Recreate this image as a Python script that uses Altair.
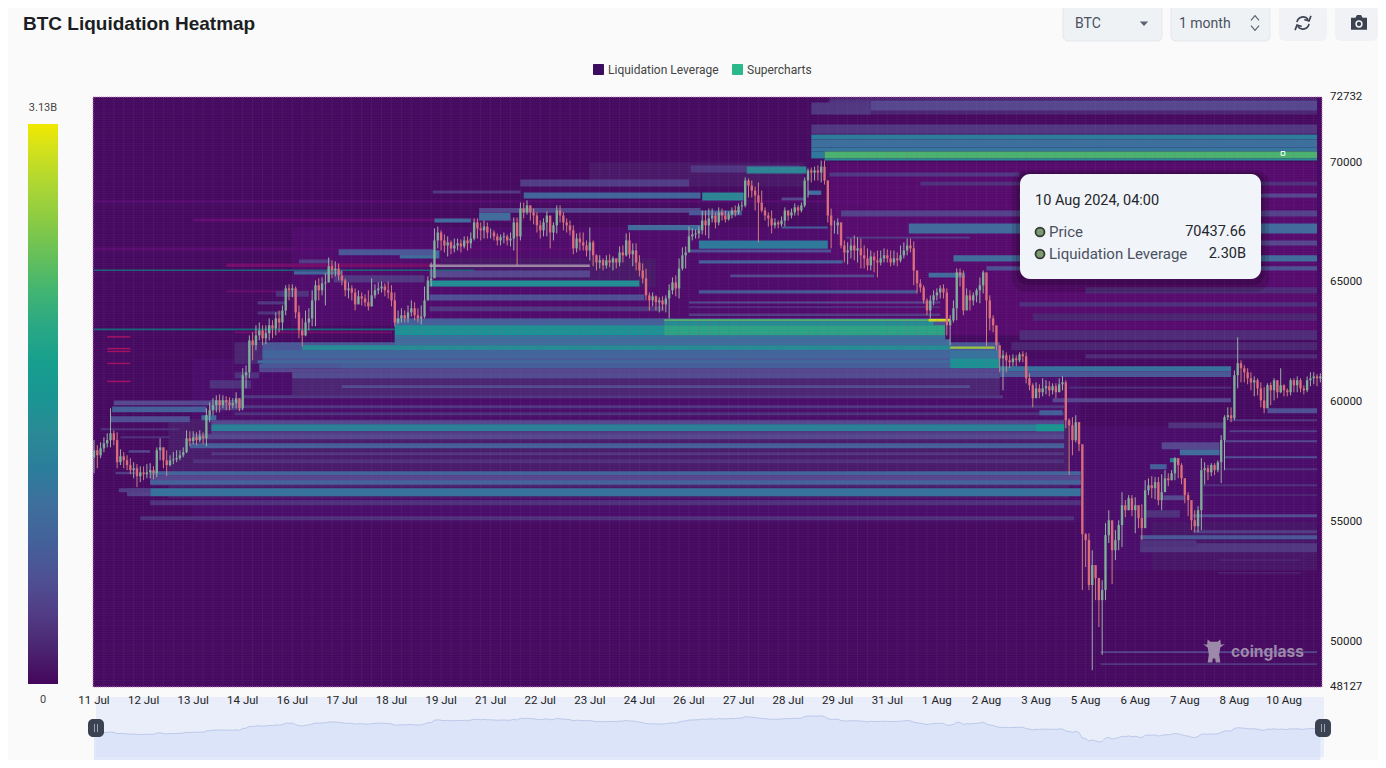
import altair as alt
import pandas as pd

# 2-hour candles as (close, high, low), one list per five days
candles_11jul = [
    (58000, 58420, 57040), (57790, 58210, 57250), (58080, 58330, 57670), (58290, 58540, 57920), (58420, 58710, 58120),
    (58710, 59750, 58120), (58420, 58830, 58210), (57500, 58750, 57250), (57750, 58040, 57380), (57580, 57920, 57250),
    (57380, 57790, 57170), (57170, 57670, 57000), (57250, 57500, 56830), (56920, 57420, 56460), (57080, 57330, 56670),
    (57000, 57330, 56750), (57080, 57420, 56830), (57170, 57460, 56830), (57040, 57330, 56790), (58000, 58120, 56880),
    (58120, 58500, 57580), (57580, 58120, 57250), (57380, 58000, 56920), (57580, 57790, 57330), (57620, 57920, 57420),
    (57670, 58000, 57500), (57790, 58000, 57580), (57920, 58120, 57710), (58500, 58830, 57880), (58380, 58790, 58170),
    (58540, 58790, 58250), (58420, 58750, 58210), (58580, 58830, 58330), (58500, 58750, 58250), (59460, 59750, 58170),
    (59670, 60000, 59170), (59880, 60170, 59460), (60080, 60290, 59580), (59880, 60330, 59580), (60080, 60290, 59750),
    (60000, 60250, 59670), (59880, 60210, 59670), (59960, 60170, 59750), (60170, 60420, 59750), (59750, 60170, 59630),
    (61130, 61420, 59670), (61250, 61540, 60580), (62580, 62790, 61000), (62380, 62920, 61750), (62790, 63210, 62170),
    (63000, 63330, 62580), (62670, 63210, 62380), (62880, 63210, 62420), (63210, 63500, 62580), (63080, 63420, 62670),
    (63500, 63750, 62790), (63330, 63830, 62920), (63830, 64040, 63000), (64750, 64880, 63630), (64670, 64920, 64250),
]
candles_16jul = [
    (64750, 64920, 64380), (63750, 64830, 63500), (63000, 64040, 62670), (62790, 63500, 62330), (63330, 63830, 62750),
    (63500, 63920, 63000), (64250, 64670, 63170), (64880, 65080, 63170), (64670, 65170, 64250), (64960, 65210, 64460),
    (65000, 65380, 64040), (65670, 66040, 65000), (65500, 65920, 65170), (65580, 65880, 65250), (65290, 65790, 65080),
    (65080, 65500, 64880), (64670, 65170, 64420), (64750, 65000, 64330), (64580, 64880, 64250), (64080, 64750, 63830),
    (64420, 64670, 64120), (64330, 64580, 64040), (64170, 64500, 64000), (64000, 64670, 63830), (64460, 65170, 64000),
    (64670, 64920, 64330), (64750, 65000, 64500), (64830, 65040, 64580), (64670, 64960, 64420), (64580, 65040, 64330),
    (64250, 64880, 64000), (63330, 64580, 63170), (63500, 63830, 63250), (63630, 63920, 63330), (63500, 63830, 63330),
    (63750, 64040, 63330), (63920, 64250, 63580), (63630, 64170, 63420), (63500, 63920, 63330), (63580, 64040, 63250),
    (64250, 64830, 63500), (65080, 65250, 64250), (65170, 65830, 64830), (66750, 67250, 65500), (67080, 67330, 66420),
    (66750, 67170, 66330), (66540, 67000, 66250), (66670, 66920, 66080), (66420, 66750, 66170), (66540, 66830, 66250),
    (66630, 66830, 66330), (66500, 66790, 66250), (66750, 66920, 66420), (66630, 66920, 66330), (66830, 67080, 66420),
    (67500, 67670, 66750), (67250, 67670, 66830), (67170, 67500, 66750), (67330, 67580, 66830), (67080, 67500, 66830),
]
candles_21jul = [
    (67080, 67250, 66830), (66920, 67170, 66750), (66750, 67040, 66540), (66880, 67000, 66540), (66920, 67080, 66630),
    (66750, 67000, 66540), (66830, 67080, 66500), (67500, 67710, 66330), (66920, 67710, 65670), (68080, 68330, 66750),
    (67920, 68330, 67670), (68210, 68420, 67830), (67920, 68210, 67580), (67790, 68080, 67420), (67380, 67920, 67080),
    (67170, 67580, 66830), (67500, 67670, 66920), (67790, 67960, 66920), (67080, 67580, 66420), (67380, 67500, 66750),
    (68000, 68210, 67040), (67790, 68210, 67500), (67500, 67920, 67170), (67380, 67670, 67080), (67170, 67580, 66960),
    (66420, 67380, 66170), (66830, 67040, 66250), (66670, 67080, 66330), (66540, 67080, 66330), (66330, 66750, 66080),
    (66670, 67290, 65920), (66130, 66750, 65670), (65830, 66170, 65500), (65920, 66130, 65580), (65710, 66000, 65500),
    (65920, 66130, 65580), (65830, 66170, 65630), (66000, 66080, 65500), (65830, 66000, 65580), (66250, 66500, 65670),
    (66130, 66540, 65830), (66750, 67040, 66080), (66170, 67080, 66000), (66330, 66630, 65670), (65830, 66630, 65500),
    (65500, 66130, 65250), (65170, 65790, 64960), (64460, 65580, 64250), (64250, 64580, 63830), (64420, 64580, 64000),
    (64170, 64460, 63830), (64250, 64380, 63750), (64080, 64420, 63830), (64330, 64460, 63750), (64670, 64920, 63500),
    (65000, 65210, 64500), (64750, 65290, 64420), (65580, 66000, 64330), (66130, 66460, 65500), (66250, 66500, 65580),
]
candles_26jul = [
    (66920, 67330, 66330), (67000, 67250, 66750), (67040, 67210, 66830), (67170, 67330, 66830), (67580, 68000, 67000),
    (67380, 68000, 66960), (67670, 68080, 66830), (67790, 68080, 67500), (67500, 67920, 67250), (67920, 68130, 67380),
    (67790, 68080, 67580), (67630, 68000, 67500), (67830, 67960, 67580), (68000, 68130, 67670), (67920, 68210, 67750),
    (68170, 68290, 67830), (68210, 68380, 68000), (69250, 69380, 68130), (69040, 69330, 68540), (68830, 69250, 68540),
    (68630, 69000, 68000), (68330, 69170, 66670), (68000, 68830, 67920), (67790, 68130, 67580), (67670, 67920, 67330),
    (67380, 68000, 67040), (67500, 67670, 67250), (67420, 67580, 67250), (67580, 67750, 67330), (68000, 68130, 67330),
    (67790, 68000, 67580), (67920, 68080, 67670), (68130, 68290, 67790), (68000, 68210, 67790), (68210, 68330, 67920),
    (69250, 69380, 68130), (69670, 69750, 68540), (69580, 69790, 69170), (69670, 69830, 69250), (69580, 69880, 69250),
    (69830, 70080, 69170), (69250, 70080, 69080), (67790, 69250, 67500), (67380, 68080, 66420), (67380, 67580, 67040),
    (67500, 67670, 67000), (66540, 67500, 66420), (66250, 66750, 65830), (66330, 66670, 65750), (66540, 66830, 66000),
    (66330, 66960, 65920), (66420, 66880, 65830), (66130, 66830, 65580), (66000, 66540, 65580), (65710, 66420, 65500),
    (66080, 66330, 65500), (65920, 66250, 65420), (65830, 66330, 65210), (66000, 66330, 65710), (66130, 66420, 65830),
]
candles_31jul = [
    (66000, 66380, 65830), (65830, 66330, 65670), (66000, 66330, 65710), (65920, 66250, 65670), (66130, 66540, 65830),
    (66330, 66670, 66000), (66540, 66830, 66130), (66420, 66830, 66250), (65500, 66710, 64880), (64960, 65420, 64540),
    (64790, 65130, 64580), (64250, 64880, 64120), (63830, 64330, 63630), (64250, 64460, 63500), (64460, 64670, 64040),
    (64580, 64750, 64250), (64750, 64880, 64330), (64580, 64920, 64330), (63210, 64750, 62790), (63420, 63630, 62380),
    (63920, 64250, 63330), (65420, 65580, 63420), (65290, 65580, 64830), (63830, 65500, 63630), (64460, 64750, 64040),
    (64250, 64670, 63830), (64460, 64580, 64040), (64670, 64750, 64170), (64880, 65210, 64130), (65420, 65500, 64540),
    (64250, 65290, 62330), (63500, 64460, 63000), (63210, 63630, 62920), (62380, 63130, 62170), (61830, 62170, 61250),
    (61960, 62170, 60500), (61750, 62080, 61250), (61670, 61960, 61420), (61830, 62000, 61500), (61750, 61960, 61500),
    (62000, 62080, 61670), (61920, 62130, 61670), (61000, 62080, 60790), (60710, 61210, 60500), (60170, 60790, 59790),
    (60580, 60830, 60170), (60420, 60750, 60170), (60580, 61000, 60250), (60670, 60920, 60330), (60500, 60880, 60250),
    (60670, 60790, 60330), (60420, 60790, 60170), (60750, 61000, 60420), (60830, 61080, 60500), (59250, 60920, 58920),
    (59040, 59330, 56960), (58420, 59380, 57790), (59170, 59460, 58330), (58250, 59170, 57960), (54500, 58130, 52170),
]
candles_5aug = [
    (54250, 54540, 53130), (52380, 54540, 52170), (53210, 53830, 48830), (52670, 53210, 51750), (51750, 52670, 50630),
    (52170, 52580, 49460), (54460, 54960, 51750), (55080, 55500, 54130), (53830, 54750, 52420), (54250, 54670, 53420),
    (54880, 55080, 53830), (55710, 56250, 53960), (55500, 55920, 55210), (56000, 56130, 55500), (55500, 56130, 55250),
    (55710, 56040, 54540), (55170, 55500, 54750), (54750, 55750, 54250), (56330, 56750, 55170), (56540, 56830, 56130),
    (56420, 56920, 56000), (56670, 56880, 55960), (55920, 56880, 55710), (56250, 57000, 55500), (56830, 57170, 56330),
    (56750, 57040, 56500), (57040, 57170, 56750), (57670, 57710, 56750), (57380, 57670, 56830), (56830, 57460, 56580),
    (56130, 56830, 55790), (55920, 56250, 55250), (55080, 55580, 54670), (54830, 55500, 54580), (55500, 55670, 54580),
    (57170, 57670, 54670), (57250, 57500, 56580), (57080, 57380, 56750), (57380, 57460, 56920), (57170, 57460, 56960),
    (57500, 57580, 57080), (58420, 58630, 56630), (59380, 59460, 57170), (59460, 59790, 59250), (59330, 59790, 59170),
    (61130, 61330, 59250), (61630, 62710, 60580), (61420, 61750, 60830), (61250, 61540, 60830), (61000, 61420, 60750),
    (60830, 61250, 60500), (60920, 61080, 60250), (60580, 61000, 60290), (60080, 60830, 59790), (59750, 60630, 59540),
    (60710, 60790, 59790), (60500, 60830, 59880), (60920, 61000, 60080), (60420, 60920, 60170), (60710, 61420, 60380),
]
candles_10aug = [
    (60500, 60750, 60250), (60420, 60580, 60250), (60920, 61000, 60290), (60710, 61000, 60420), (60920, 61080, 60420),
    (60580, 61000, 60420), (60500, 60710, 60330), (60920, 61080, 60420), (61000, 61250, 60670), (61080, 61250, 60750),
    (61000, 61170, 60670), (61080, 61210, 60830),
]
candle_groups = [candles_11jul, candles_16jul, candles_21jul, candles_26jul, candles_31jul, candles_5aug, candles_10aug]
first_open = 57700

# heat bands as (price low, price high, start hour, end hour, level in billions)
bands_under = [
    (61400, 62500, 100, 548, 0.7), (60300, 61400, 120, 548, 0.2), (56000, 59300, 45, 590, 0.12),
    (62500, 63500, 182, 515, 0.6), (72000, 72700, 445, 740, 0.2), (61600, 62500, 85, 102, 0.2),
    (69000, 70000, 300, 430, 0.1), (64800, 66000, 210, 340, 0.1), (53000, 55000, 640, 740, 0.08),
]
bands_top = [
    (72170, 72580, 470, 740, 0.5), (72420, 72620, 445, 470, 0.3), (72000, 72500, 434, 470, 0.35),
    (71200, 71580, 434, 740, 0.35), (70960, 71170, 434, 740, 1.25), (70625, 70960, 434, 740, 1.05),
    (70460, 70625, 434, 740, 1.15), (70170, 70460, 434, 442, 1.2), (70170, 70460, 442, 740, 2.25),
    (70080, 70170, 442, 740, 1.5),
]
bands_right_upper = [
    (69420, 69580, 445, 560, 0.35), (69040, 69200, 500, 740, 0.3), (68540, 68710, 560, 740, 0.5),
    (67750, 68000, 452, 740, 0.45), (67040, 67460, 493, 740, 1.0), (66540, 66750, 580, 740, 0.5),
    (66830, 66900, 455, 530, 0.4), (65870, 66130, 520, 740, 1.0), (65500, 65670, 540, 740, 0.6),
    (65200, 65400, 505, 527, 1.0), (64540, 64800, 600, 740, 0.25), (64000, 64170, 560, 740, 0.3),
    (63400, 63700, 568, 740, 0.2), (62600, 63000, 560, 740, 0.25), (62170, 62500, 555, 740, 0.2),
    (61830, 62000, 600, 740, 0.25),
]
bands_mid_upper = [
    (64830, 65080, 203, 330, 1.55), (65210, 65500, 203, 300, 0.5), (64250, 64500, 203, 333, 0.6),
    (63800, 64000, 203, 345, 0.35), (68710, 68830, 205, 258, 0.35), (68500, 68750, 260, 367, 0.9),
    (69000, 69290, 258, 360, 0.4), (67900, 68100, 233, 367, 0.5), (67580, 67900, 233, 252, 1.0),
    (67500, 67670, 206, 228, 1.0), (66000, 66340, 185, 209, 1.0), (67170, 67390, 323, 367, 1.0),
    (69580, 69875, 361, 427, 0.35), (69540, 69830, 395, 431, 1.4), (68420, 68750, 368, 393, 1.4),
    (67800, 68000, 360, 392, 0.7), (68650, 68830, 432, 440, 1.0), (68420, 68540, 416, 430, 0.5),
    (67250, 67330, 416, 444, 0.8), (66400, 66750, 366, 444, 1.2), (66250, 66375, 360, 446, 0.6),
    (65790, 65920, 366, 453, 0.8), (65210, 65330, 385, 472, 0.5), (64540, 64670, 366, 498, 0.7),
    (64120, 64200, 360, 512, 0.5), (63940, 64000, 360, 512, 0.4), (63600, 63700, 360, 512, 0.4),
]
bands_core = [
    (63210, 63460, 182, 345, 0.8), (62790, 63210, 182, 345, 1.6), (63375, 63460, 345, 508, 2.3),
    (63210, 63375, 345, 508, 1.5), (62790, 63210, 345, 515, 2.0), (62625, 62790, 182, 515, 1.1),
    (62375, 62625, 182, 518, 1.0), (62170, 62375, 105, 126, 0.7), (62170, 62375, 126, 518, 1.5),
    (61830, 62170, 102, 518, 0.9), (61830, 62170, 518, 548, 1.1), (61420, 61830, 518, 548, 1.6),
    (61625, 61750, 99, 518, 0.95), (61420, 61625, 150, 518, 0.8), (61250, 61400, 100, 548, 0.5),
    (61000, 61250, 120, 548, 0.55), (60600, 60708, 150, 530, 0.55), (60170, 60292, 90, 550, 0.35),
    (59750, 59875, 85, 587, 0.35), (59458, 59583, 85, 587, 0.3), (61290, 61500, 548, 688, 1.1),
    (61060, 61290, 548, 688, 0.7), (60000, 60170, 580, 688, 0.5), (60580, 60650, 590, 688, 0.3),
    (62230, 62330, 518, 545, 2.7), (63370, 63480, 505, 518, 3.0),
]
bands_low = [
    (59080, 59250, 71, 587, 0.5), (58790, 59083, 71, 587, 1.3), (58625, 58790, 71, 587, 0.4),
    (58460, 58670, 60, 587, 0.5), (58080, 58292, 58, 587, 0.8), (57790, 57920, 71, 587, 0.35),
    (57460, 57620, 60, 587, 0.3), (56960, 57120, 34, 597, 0.9), (56540, 56960, 34, 597, 0.5),
    (56580, 56750, 34, 597, 0.85), (56083, 56417, 34, 597, 1.1), (56083, 56417, 20, 34, 0.45),
    (55710, 55920, 34, 597, 0.3), (55080, 55250, 28, 593, 0.3), (58790, 59083, 570, 587, 1.7),
    (59458, 59667, 572, 586, 0.8),
]
bands_left = [
    (59580, 59830, 11, 68, 0.8), (59170, 59420, 10, 58, 0.6), (59875, 60080, 12, 76, 0.5),
    (58830, 58920, 4, 52, 0.3), (58500, 58580, 16, 46, 0.3), (57900, 58000, 21, 34, 0.5),
    (57000, 57100, 13, 25, 0.4), (56250, 56420, 15, 34, 0.4), (59250, 59458, 65, 74, 1.0),
    (59667, 60100, 70, 90, 0.4), (60580, 60920, 70, 95, 0.3), (61000, 61250, 85, 100, 0.3),
    (66130, 66380, 148, 205, 0.7), (65800, 65960, 124, 143, 0.4), (65330, 65460, 121, 150, 0.9),
    (64080, 64210, 99, 116, 0.35), (63660, 63790, 99, 113, 0.3), (65000, 65300, 145, 200, 0.35),
    (64400, 64650, 110, 130, 0.3),
]
bands_right_low = [
    (49540, 49620, 609, 740, 0.5), (49040, 49120, 609, 740, 0.35), (59540, 59750, 710, 740, 0.6),
    (59210, 59290, 687, 740, 0.35), (58750, 58830, 687, 740, 0.4), (58330, 58420, 684, 740, 0.5),
    (57670, 57750, 684, 740, 0.6), (57170, 57250, 684, 740, 0.3), (56500, 56580, 671, 740, 0.3),
    (56090, 56170, 671, 740, 0.2), (55210, 55330, 665, 740, 0.55), (54540, 54660, 665, 740, 0.4),
    (53750, 54120, 633, 740, 0.35), (53960, 54250, 633, 667, 0.3), (54290, 54460, 633, 740, 0.7),
    (53370, 53460, 680, 730, 0.15), (52830, 52920, 680, 730, 0.12), (57790, 58040, 657, 681, 1.0),
    (58040, 58330, 646, 681, 0.5), (57500, 57670, 651, 655, 1.3), (57210, 57420, 639, 649, 0.8),
    (58920, 59160, 650, 685, 0.3), (55920, 56120, 647, 660, 0.5), (55200, 55500, 635, 657, 0.3),
]
band_groups = [bands_under, bands_top, bands_right_upper, bands_mid_upper, bands_core, bands_low, bands_left,
               bands_right_low]

# background tints and thin lines as (price low, price high, start hour, end hour, colour)
tints = [
    (62800, 70000, 445, 740, "#560a6c"), (63200, 67300, 120, 445, "#4f0a6a"), (55000, 61800, 60, 597, "#490c69"),
    (53000, 59000, 597, 740, "#490c69"), (68330, 68420, 0, 470, "#5c0a72"), (67540, 67670, 60, 260, "#640a70"),
    (66330, 66460, 0, 300, "#5a0a70"), (65640, 65790, 80, 250, "#760a68"), (64580, 64670, 80, 120, "#640a6e"),
    (62870, 62960, 85, 180, "#700a68"),
]
thin_lines = [
    (63000, 63080, 0, 182, "#146a78"), (65480, 65540, 0, 230, "#146a78"), (65640, 65750, 203, 300, "#a08aa8"),
    (62700, 62760, 8, 22, "#a81060"), (62210, 62270, 8, 22, "#a81060"), (62090, 62150, 8, 22, "#a81060"),
    (61590, 61650, 8, 22, "#a81060"), (60840, 60900, 8, 22, "#a81060"),
]

tick_hours = list(range(0, 721, 30))
tick_labels = ["11 Jul", "12 Jul", "13 Jul", "14 Jul", "16 Jul", "17 Jul", "18 Jul", "19 Jul", "21 Jul", "22 Jul",
               "23 Jul", "24 Jul", "26 Jul", "27 Jul", "28 Jul", "29 Jul", "31 Jul", "1 Aug", "2 Aug", "3 Aug",
               "5 Aug", "6 Aug", "7 Aug", "8 Aug", "10 Aug"]
price_ticks = [48127, 50000, 55000, 60000, 65000, 70000, 72732]
color_levels = [0, 0.5, 1.0, 1.4, 2.0, 2.5, 3.13]
color_stops = ["#44065c", "#55488f", "#3f6f9c", "#2a8a95", "#2aa884", "#7cc44a", "#f0e800"]
marker_hour = 719.4
marker_price = 70380

# build tables
rows = []
prev = first_open
for g, group in enumerate(candle_groups):
    for i, (close, high, low) in enumerate(group):
        rows.append({"hour": g * 120 + i * 2, "open": prev, "close": close, "high": high, "low": low})
        prev = close
candles = pd.DataFrame(rows)
up = candles[candles["close"] >= candles["open"]]
down = candles[candles["close"] < candles["open"]]
bands = pd.DataFrame([b for group in band_groups for b in group], columns=["p0", "p1", "h0", "h1", "level"])
tint_df = pd.DataFrame(tints, columns=["p0", "p1", "h0", "h1", "c"])
line_df = pd.DataFrame(thin_lines, columns=["p0", "p1", "h0", "h1", "c"])

W, H = 1229, 590
OX, OY = 93, 97
one = pd.DataFrame({"a": [0]})
x_scale = alt.Scale(domain=[-0.6, 743], nice=False, zero=False, padding=0)
y_scale = alt.Scale(domain=[48127, 72732], nice=False, zero=False)
UI = "Roboto"


def X(field):
    return alt.X(field, scale=x_scale, axis=None, title=None)


def Y(field):
    return alt.Y(field, scale=y_scale, axis=None, title=None)


# all helpers below take page pixels
def box(x0, y0, x1, y1, color, radius=0, **kw):
    return alt.Chart(one).mark_rect(color=color, cornerRadius=radius, **kw).encode(
        x=alt.value(x0 - OX), x2=alt.value(x1 - OX), y=alt.value(y0 - OY), y2=alt.value(y1 - OY))


def label(text, x, y, size=12, color="#222", align="left", font=UI, weight="normal"):
    return alt.Chart(one).mark_text(text=text, fontSize=size, color=color, align=align, baseline="middle", dy=1,
                                    font=font, fontWeight=weight).encode(x=alt.value(x - OX), y=alt.value(y - OY))


def icon(path, x, y, size, **kw):
    return alt.Chart(one).mark_point(shape=path, size=size, **kw).encode(x=alt.value(x - OX), y=alt.value(y - OY))


def tint_layer(df):
    return alt.Chart(df).mark_rect().encode(
        x=X("h0:Q"), x2="h1:Q", y=Y("p0:Q"), y2="p1:Q", color=alt.Color("c:N", scale=None))


base = box(OX, OY, OX + W, OY + H, "#45095f")

heat = alt.Chart(bands).mark_rect().encode(
    x=X("h0:Q"),
    x2="h1:Q",
    y=Y("p0:Q"),
    y2="p1:Q",
    color=alt.Color("level:Q", scale=alt.Scale(domain=color_levels, range=color_stops), legend=alt.Legend(
        orient="none", legendX=-65, legendY=27, direction="vertical", gradientLength=560, gradientThickness=30,
        labelOpacity=0, title=None, gradientStrokeWidth=0)),
)

# axis labels, drawn through the same scales
x_labels = alt.Chart(pd.DataFrame({"h": tick_hours, "t": tick_labels})).mark_text(
    fontSize=11.5, font=UI, color="#222", baseline="middle", dy=1).encode(
    x=X("h:Q"), y=alt.value(700 - OY), text="t:N")
y_labels = alt.Chart(pd.DataFrame({"p": price_ticks})).mark_text(
    fontSize=11.5, font=UI, color="#222", baseline="middle", align="left").encode(
    x=alt.value(1330 - OX), y=Y("p:Q"), text=alt.Text("p:Q", format="d"))

# fine lattice of the heatmap cells
grid_v = alt.Chart(pd.DataFrame({"h": list(range(0, 743, 6))})).mark_rule(
    color="#8a5aa8", strokeWidth=1, opacity=0.13).encode(x=X("h:Q"))
grid_h = alt.Chart(pd.DataFrame({"p": list(range(48200, 72700, 100))})).mark_rule(
    color="#7a4a9a", strokeWidth=0.6, opacity=0.22).encode(y=Y("p:Q"))
border = box(OX, OY, OX + W, OY + H, "#000000", fillOpacity=0, stroke="#c77fc7", strokeWidth=1, strokeDash=[1, 1])


def wick(df, color):
    return alt.Chart(df).mark_rule(color=color, strokeWidth=1, opacity=0.9).encode(
        x=X("hour:Q"), y=Y("low:Q"), y2="high:Q")


def body(df, color):
    return alt.Chart(df).mark_bar(color=color, size=2.4, orient="vertical", opacity=0.95).encode(
        x=X("hour:Q"), y=Y("open:Q"), y2="close:Q")


marker = alt.Chart(pd.DataFrame({"h": [marker_hour], "p": [marker_price]})).mark_point(
    shape="square", size=14, fill="#3cb371", stroke="#ffffff", strokeWidth=1, filled=True, opacity=1
).encode(x=X("h:Q"), y=Y("p:Q"))

watermark = [
    icon("M-.55,-1 L-.3,-.8 L.3,-.8 L.55,-1 L.6,-.55 L.95,-.6 L.55,-.3 L.45,.3 L.55,1 L.15,1 L.1,.65 L-.1,.65 L-.15,1 "
         "L-.55,1 L-.45,.3 L-.55,-.3 L-.95,-.6 L-.6,-.55 Z", 1214, 651, 530, filled=True, fill="#9d89a9", opacity=1),
    label("coinglass", 1231, 651, size=15.5, color="#9d89a9", font="Inter", weight="bold"),
]

main = alt.layer(
    base,
    tint_layer(tint_df),
    heat,
    tint_layer(line_df),
    grid_v,
    grid_h,
    wick(up, "#a4bfae"),
    wick(down, "#dc8a80"),
    body(up, "#80b09a"),
    body(down, "#dd6f7c"),
    *watermark,
    marker,
    border,
)

# range slider at the bottom, on its own price scale
slider_bg = box(96, 697, 1324, 757, "#e9eefa")
slider_area = alt.Chart(candles).mark_area(
    color="#d5dff8", line={"color": "#bcc9ea", "strokeWidth": 1}
).encode(
    x=X("hour:Q"),
    y=alt.Y("close:Q", axis=None, title=None,
            scale=alt.Scale(domain=[41450, 82800], range=[660, 600], nice=False, zero=False)),
    y2=alt.value(660),
)
slider = alt.layer(slider_bg, slider_area)
handles = [box(x - 8, 719, x + 8, 737, "#3b4252", radius=5) for x in (96, 1323)]
handle_bars = [box(x + d, 724, x + d + 1, 732, "#9aa3b5") for x in (96, 1323) for d in (-2, 1)]

tooltip_dot = alt.Chart(one).mark_point(shape="circle", size=80, fill="#7d9a72", stroke="#333a33", strokeWidth=1.8,
                                        filled=True, opacity=1)

header = [
    label("BTC Liquidation Heatmap", 23, 23, size=19, color="#1b1e23", font="Liberation Sans", weight="bold"),
    box(1063, 5, 1162, 41, "#eff2f5", radius=5, stroke="#e3e6ea"),
    label("BTC", 1075, 23, size=14, color="#4a5160"),
    icon("M-1,-.5 L1,-.5 L0,.6 Z", 1144, 23.5, 70, filled=True, fill="#5a6270", opacity=1),
    box(1171, 5, 1270, 41, "#eff2f5", radius=5, stroke="#e3e6ea"),
    label("1 month", 1179, 23, size=14, color="#4a5160"),
    icon("M-.6,-.4 L0,-1.1 L.6,-.4 M-.6,.4 L0,1.1 L.6,.4", 1255, 23, 180, filled=False, stroke="#5a6270",
         strokeWidth=1.2, opacity=1),
    box(1279, 5, 1327, 41, "#f0f2f5", radius=6),
    icon("M-.72,-.1 A.75,.75 0 0 1 .62,-.42 M.95,-.85 L.72,-.25 L.15,-.42 M.72,.1 A.75,.75 0 0 1 -.62,.42 "
         "M-.95,.85 L-.72,.25 L-.15,.42", 1303, 23, 280, filled=False, stroke="#3c4250", strokeWidth=1.6, opacity=1),
    box(1335, 5, 1378, 41, "#f0f2f5", radius=6),
    icon("M-1,-.65 L-.45,-.65 L-.25,-1 L.25,-1 L.45,-.65 L1,-.65 L1,.85 L-1,.85 Z", 1359, 23, 256, filled=True,
         fill="#3c4250", opacity=1),
    alt.Chart(one).mark_point(shape="circle", size=34, filled=False, stroke="#f0f2f5", strokeWidth=1.5,
                              opacity=1).encode(x=alt.value(1359 - OX), y=alt.value(24 - OY)),
    box(593, 64, 604, 75, "#3b0d5e", radius=1),
    label("Liquidation Leverage", 608, 69, size=12, color="#444"),
    box(732, 64, 743, 75, "#2bb88a", radius=1),
    label("Supercharts", 747, 69, size=12, color="#444"),
    label("3.13B", 43, 107, size=11, color="#444", align="center"),
    label("0", 43, 699, size=11, color="#444", align="center"),
]

tooltip = [
    box(1012, 170, 1269, 292, "#000000", radius=14, opacity=0.12),
    box(1016, 172, 1265, 285, "#000000", radius=12, opacity=0.15),
    box(1020, 174, 1261, 279, "#f1f4f8", radius=10),
    label("10 Aug 2024, 04:00", 1035, 200, size=14.5, color="#22252b"),
    tooltip_dot.encode(x=alt.value(1040 - OX), y=alt.value(232 - OY)),
    label("Price", 1049, 231, size=15, color="#4a5160"),
    label("70437.66", 1246, 231, size=14.5, color="#22252b", align="right"),
    tooltip_dot.encode(x=alt.value(1040 - OX), y=alt.value(254 - OY)),
    label("Liquidation Leverage", 1049, 253, size=15, color="#4a5160"),
    label("2.30B", 1246, 253, size=14.5, color="#22252b", align="right"),
]

chart = alt.layer(
    slider,
    main,
    x_labels,
    y_labels,
    *handles,
    *handle_bars,
    *header,
    *tooltip,
).resolve_scale(y="independent").properties(
    width=W,
    height=H,
    background="#fafafa",
    autosize=alt.AutoSizeParams(type="none"),
    padding={"left": OX - 8, "top": OY - 8, "right": 1370 - (OX - 8) - W, "bottom": 752 - (OY - 8) - H},
).configure_view(stroke=None)

chart.save("out.html", embed_options={"renderer": "svg", "actions": False})
